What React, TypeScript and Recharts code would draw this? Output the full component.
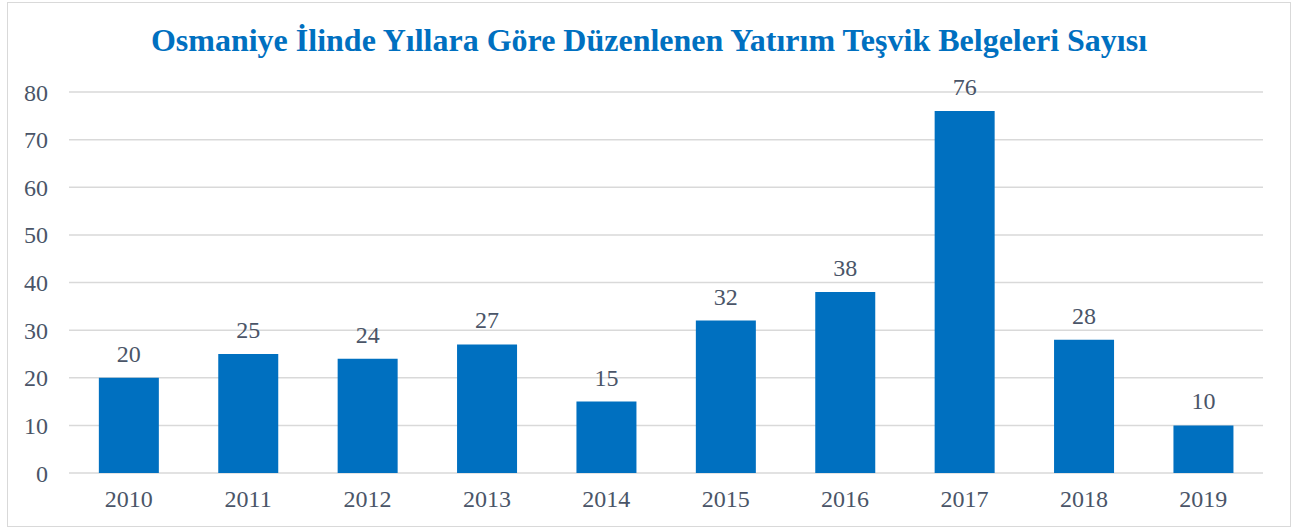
// Osmaniye teşvik belgeleri bar chart

import { BarChart, Bar, XAxis, YAxis, CartesianGrid, LabelList } from "recharts";

const years = ["2010", "2011", "2012", "2013", "2014", "2015", "2016", "2017", "2018", "2019"];
const belgeSayisi = [20, 25, 24, 27, 15, 32, 38, 76, 28, 10];
const yTicks = [0, 10, 20, 30, 40, 50, 60, 70, 80];

const data = years.map((year, i) => ({ year, value: belgeSayisi[i] }));

const serif = "'Liberation Serif', 'Times New Roman', serif";
const tickStyle = { fill: "#4a5568", fontSize: 24, fontFamily: serif };

export default function App() {
  return (
    <div style={{ position: "absolute", left: 0, top: 0, width: 1298, height: 532, background: "#fff" }}>
      {/* frame */}
      <div
        style={{
          position: "absolute",
          left: 7,
          top: 2,
          width: 1284,
          height: 525,
          border: "1px solid #d9d9d9",
          boxSizing: "border-box",
        }}
      />

      <div
        style={{
          position: "absolute",
          left: 0,
          top: 20,
          width: 1298,
          textAlign: "center",
          fontFamily: serif,
          fontWeight: "bold",
          fontSize: 32,
          color: "#0070C0",
          lineHeight: "40px",
        }}
      >
        Osmaniye İlinde Yıllara Göre Düzenlenen Yatırım Teşvik Belgeleri Sayısı
      </div>

      <div style={{ position: "absolute", left: 0, top: 0 }}>
        <BarChart
          width={1298}
          height={532}
          data={data}
          margin={{ top: 92, right: 35, bottom: 0, left: 0 }}
          barCategoryGap="25%"
        >
          <CartesianGrid vertical={false} stroke="#d9d9d9" strokeWidth={1.5} />
          <XAxis
            dataKey="year"
            height={59}
            axisLine={false}
            tickLine={false}
            tickSize={0}
            tickMargin={17}
            tick={tickStyle}
            interval={0}
          />
          <YAxis
            width={69}
            domain={[0, 80]}
            ticks={yTicks}
            axisLine={false}
            tickLine={false}
            tickSize={0}
            tickMargin={21}
            tick={tickStyle}
          />
          <Bar dataKey="value" fill="#0070C0" isAnimationActive={false}>
            <LabelList dataKey="value" position="top" offset={16} style={tickStyle} />
          </Bar>
        </BarChart>
      </div>
    </div>
  );
}
